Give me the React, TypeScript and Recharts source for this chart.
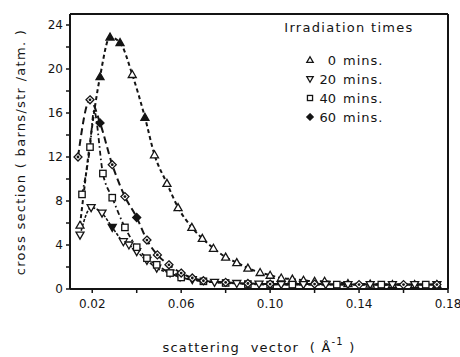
import React from 'react';
import { ComposedChart, Line, XAxis, YAxis, ReferenceLine } from 'recharts';

// scattering vector (1/Å) and cross section (barns/str/atm.)
const q0 = [0.0145, 0.0235, 0.028, 0.0325, 0.038, 0.0437, 0.048, 0.0536, 0.0586, 0.0648, 0.0695, 0.0745, 0.08, 0.085, 0.09, 0.0955, 0.1, 0.105, 0.11, 0.115, 0.12, 0.1245, 0.135, 0.145, 0.155, 0.165, 0.175];
const cs0 = [5.8, 19.3, 22.9, 22.4, 19.5, 15.6, 12.2, 9.6, 7.4, 5.6, 4.6, 3.7, 2.9, 2.4, 1.9, 1.5, 1.25, 1.0, 0.9, 0.8, 0.7, 0.7, 0.5, 0.45, 0.4, 0.4, 0.4];
const filled0 = [0.0235, 0.028, 0.0325, 0.0437];

const q20 = [0.0145, 0.0195, 0.0244, 0.029, 0.034, 0.0365, 0.04, 0.0446, 0.049, 0.055, 0.0595, 0.065, 0.075, 0.085, 0.095, 0.105, 0.115, 0.125, 0.135, 0.145, 0.155, 0.165, 0.175];
const cs20 = [4.9, 7.4, 6.9, 5.6, 4.3, 4.0, 3.4, 2.6, 1.9, 1.45, 1.1, 0.85, 0.6, 0.5, 0.45, 0.4, 0.4, 0.4, 0.4, 0.4, 0.4, 0.4, 0.4];
const filled20 = [0.029];

const q40 = [0.0154, 0.019, 0.0248, 0.029, 0.0347, 0.04, 0.0446, 0.049, 0.055, 0.06, 0.07, 0.08, 0.09, 0.1, 0.11, 0.13, 0.15, 0.17];
const cs40 = [8.6, 12.9, 10.5, 8.3, 5.6, 3.8, 2.8, 2.2, 1.45, 1.05, 0.7, 0.55, 0.45, 0.4, 0.4, 0.4, 0.4, 0.4];
// hand-drawn curve peak between the squares (no marker)
const knotQ40 = [0.0208];
const knotCs40 = [16.2];

const q60 = [0.0136, 0.019, 0.0235, 0.029, 0.0347, 0.04, 0.0446, 0.0493, 0.0545, 0.06, 0.065, 0.07, 0.08, 0.09, 0.1, 0.12, 0.14, 0.16, 0.175];
const cs60 = [12.0, 17.2, 15.1, 11.3, 8.4, 6.5, 4.45, 3.1, 2.2, 1.45, 1.0, 0.75, 0.6, 0.5, 0.45, 0.45, 0.4, 0.4, 0.4];
const filled60 = [0.0235, 0.04];

const xTicks = [0.02, 0.04, 0.06, 0.08, 0.1, 0.12, 0.14, 0.16, 0.18];
const xLabelled = [0.02, 0.06, 0.1, 0.14, 0.18];
const yTicks = [0, 2, 4, 6, 8, 10, 12, 14, 16, 18, 20, 22, 24];
const yLabelled = [0, 4, 8, 12, 16, 20, 24];

const legendTitle = 'Irradiation times';
const legendTimes = ['0', '20', '40', '60'];

const INK = '#141414';
const FONT = 'DejaVu Sans';

type Kind = 'up' | 'down' | 'square' | 'diamond';

const toPts = (xs: number[], ys: number[]) => xs.map((x, i) => ({ x, y: ys[i] }));

const Marker = ({ kind, cx, cy, filled, s = 4 }: { kind: Kind; cx: number; cy: number; filled: boolean; s?: number }) => {
  const fill = filled ? INK : '#fff';
  if (kind === 'up') {
    return <polygon points={`${cx},${cy - s} ${cx - s},${cy + s * 0.75} ${cx + s},${cy + s * 0.75}`} fill={fill} stroke={INK} strokeWidth={1.3} />;
  }
  if (kind === 'down') {
    return <polygon points={`${cx},${cy + s} ${cx - s},${cy - s * 0.75} ${cx + s},${cy - s * 0.75}`} fill={fill} stroke={INK} strokeWidth={1.3} />;
  }
  if (kind === 'square') {
    return <rect x={cx - s * 0.8} y={cy - s * 0.8} width={s * 1.6} height={s * 1.6} fill={fill} stroke={INK} strokeWidth={1.3} />;
  }
  return (
    <g>
      <polygon points={`${cx},${cy - s} ${cx + s},${cy} ${cx},${cy + s} ${cx - s},${cy}`} fill={fill} stroke={INK} strokeWidth={1.3} />
      <circle cx={cx} cy={cy} r={1.4} fill={INK} />
    </g>
  );
};

const makeDot = (kind: Kind, filled: number[], knots: number[]) => (props: any) => {
  const { cx, cy, payload, index } = props;
  if (cx == null || cy == null || knots.includes(payload.x)) return <g key={`k-${kind}-${index}`} />;
  return (
    <g key={`d-${kind}-${index}`}>
      <Marker kind={kind} cx={cx} cy={cy} filled={filled.includes(payload.x)} />
    </g>
  );
};

const series = [
  { name: '0', kind: 'up' as Kind, data: toPts(q0, cs0), filled: filled0, knots: [] as number[], dash: '4 3', width: 2 },
  { name: '20', kind: 'down' as Kind, data: toPts(q20, cs20), filled: filled20, knots: [] as number[], dash: '3 1.5', width: 1.6 },
  {
    name: '40',
    kind: 'square' as Kind,
    data: [...toPts(q40, cs40), ...toPts(knotQ40, knotCs40)].sort((a, b) => a.x - b.x),
    filled: [] as number[],
    knots: knotQ40,
    dash: '5 3 1.5 3',
    width: 1.8,
  },
  { name: '60', kind: 'diamond' as Kind, data: toPts(q60, cs60), filled: filled60, knots: [] as number[], dash: '7 4', width: 2 },
];

const legendKinds: Kind[] = ['up', 'down', 'square', 'diamond'];

const App = () => {
  return (
    <div style={{ position: 'absolute', left: 0, top: 0, width: 460, height: 357, background: '#fff', fontFamily: FONT }}>
      <ComposedChart width={460} height={357} margin={{ top: 14, right: 12, bottom: 0, left: 0 }}>
        <XAxis
          type="number"
          dataKey="x"
          domain={[0.01, 0.18]}
          allowDataOverflow
          ticks={xTicks}
          tickFormatter={(v: number) => (xLabelled.some((t) => Math.abs(t - v) < 1e-9) ? v.toFixed(2) : '')}
          height={68}
          tickSize={4}
          tickMargin={6}
          axisLine={{ stroke: INK, strokeWidth: 2 }}
          tickLine={{ stroke: INK, strokeWidth: 1.5 }}
          tick={{ fill: INK, fontSize: 12, fontFamily: FONT }}
          label={{
            content: () => (
              <text x={259} y={352} textAnchor="middle" fill={INK} fontSize={13} fontFamily={FONT} letterSpacing={1.2} xmlSpace="preserve">
                scattering  vector  ( Å<tspan dy={-7} fontSize={10}>-1</tspan>
                <tspan dy={7}> )</tspan>
              </text>
            ),
          }}
        />
        <YAxis
          type="number"
          domain={[0, 25]}
          allowDataOverflow
          ticks={yTicks}
          tickFormatter={(v: number) => (yLabelled.includes(v) ? String(v) : '')}
          width={70}
          tickSize={4}
          tickMargin={3}
          axisLine={{ stroke: INK, strokeWidth: 2 }}
          tickLine={{ stroke: INK, strokeWidth: 1.5 }}
          tick={{ fill: INK, fontSize: 12, fontFamily: FONT }}
          label={{
            content: () => (
              <text
                x={21}
                y={152}
                transform="rotate(-90 21 152)"
                textAnchor="middle"
                dominantBaseline="middle"
                fill={INK}
                fontSize={13}
                fontFamily={FONT}
                letterSpacing={1.3}
              >
                cross section ( barns/str /atm. )
              </text>
            ),
          }}
        />
        <ReferenceLine y={25} stroke={INK} strokeWidth={2} />
        <ReferenceLine x={0.18} stroke={INK} strokeWidth={2} />
        {series.map((s) => (
          <Line
            key={s.name}
            data={s.data}
            dataKey="y"
            type="monotone"
            stroke={INK}
            strokeWidth={s.width}
            strokeDasharray={s.dash}
            dot={makeDot(s.kind, s.filled, s.knots)}
            activeDot={false}
            isAnimationActive={false}
          />
        ))}
      </ComposedChart>
      <svg width={460} height={130} style={{ position: 'absolute', left: 0, top: 0, pointerEvents: 'none' }}>
        <text x={349} y={32} textAnchor="middle" fill={INK} fontSize={13} fontFamily={FONT} letterSpacing={1.3}>
          {legendTitle}
        </text>
        {legendTimes.map((t, i) => (
          <g key={t}>
            <Marker kind={legendKinds[i]} cx={310} cy={60 + i * 19} filled={i === 3} s={3.2} />
            <text x={336} y={65 + i * 19} textAnchor="end" fill={INK} fontSize={13} fontFamily={FONT}>
              {t}
            </text>
            <text x={343} y={65 + i * 19} fill={INK} fontSize={13} fontFamily={FONT} letterSpacing={1}>
              mins.
            </text>
          </g>
        ))}
      </svg>
    </div>
  );
};

export default App;
